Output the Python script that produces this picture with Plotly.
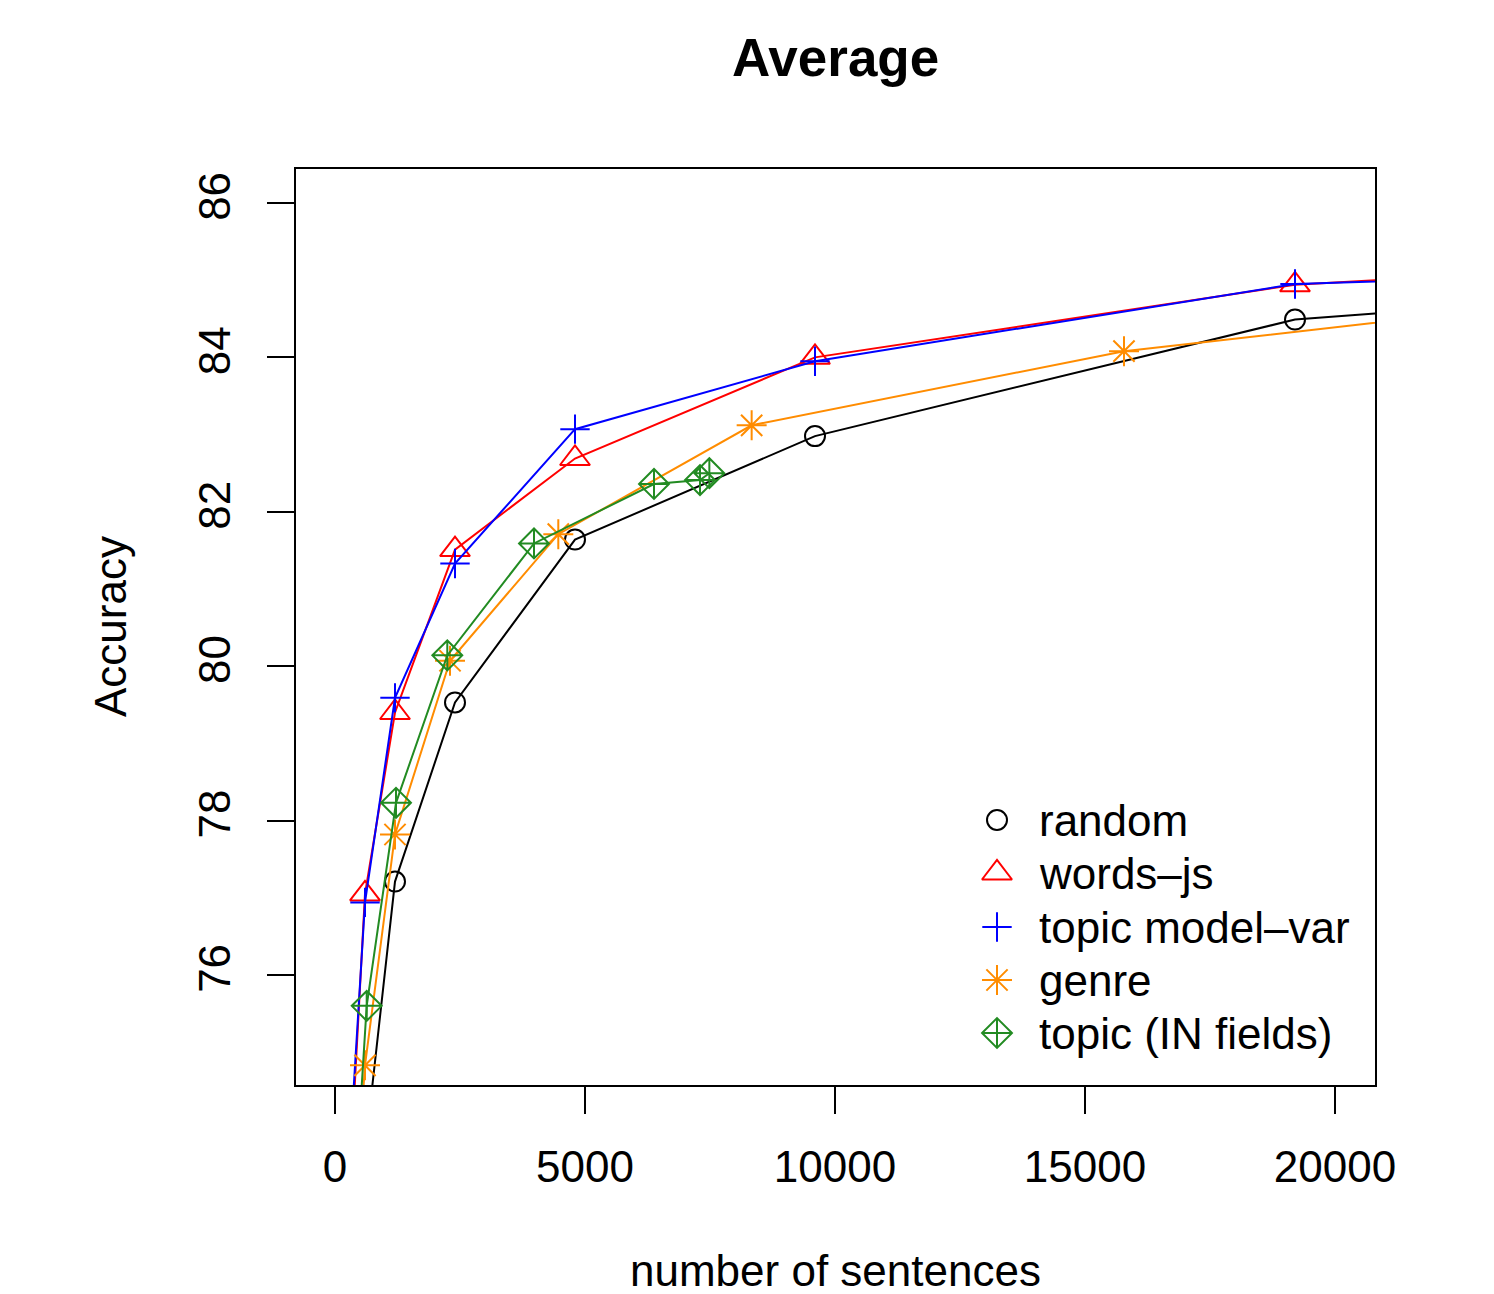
import plotly.graph_objects as go

# ---------------- data ----------------
x_random = [600, 1200, 2400, 4800, 9600, 19200, 38400]
y_random = [73.71, 77.21, 79.53, 81.64, 82.98, 84.49, 85.43]

x_words = [300, 600, 1200, 2400, 4800, 9600, 19200, 38400]
y_words = [73.43, 77.05, 79.40, 81.51, 82.69, 84.00, 84.94, 85.66]

x_tmvar = [300, 600, 1200, 2400, 4800, 9600, 19200, 38400]
y_tmvar = [73.76, 76.94, 79.59, 81.33, 83.07, 83.95, 84.95, 85.35]

x_genre = [300, 600, 1200, 2300, 4466, 8333, 15780, 30000]
y_genre = [72.0, 74.83, 77.82, 80.07, 81.71, 83.12, 84.08, 85.12]

x_topic = [300, 634, 1220, 2246, 3980, 6380, 7300, 7487]
y_topic = [72.14, 75.60, 78.23, 80.14, 81.59, 82.36, 82.41, 82.50]

series_names = ["random", "words\u2013js", "topic model\u2013var", "genre", "topic (IN fields)"]
x_ticks = [0, 5000, 10000, 15000, 20000]
y_ticks = [76, 78, 80, 82, 84, 86]

# ---------------- style ----------------
FONT = "Liberation Sans, Arial, Helvetica, sans-serif"
colors = ["#000000", "#FF0000", "#0000FF", "#FF8C00", "#228B22"]
symbols = ["circle-open", "triangle-up-open", "cross-thin-open", "asterisk-open", "diamond-cross-open"]
sizes = [20, 26, 21, 25, 23]

xs = [x_random, x_words, x_tmvar, x_genre, x_topic]
ys = [y_random, y_words, y_tmvar, y_genre, y_topic]

W, H = 1494, 1294
L, R, T, B = 296, 119, 169, 209
PW, PH = W - L - R, H - T - B

fig = go.Figure()
for xv, yv, c, s, sz, nm in zip(xs, ys, colors, symbols, sizes, series_names):
    fig.add_trace(go.Scatter(
        x=xv, y=yv, mode="lines+markers", name=nm, showlegend=False,
        line=dict(color=c, width=2),
        marker=dict(symbol=s, size=sz, color=c, line=dict(color=c, width=2)),
        cliponaxis=True,
    ))

# manual legend on an overlay axis (0..1 fraction of plot area)
leg_x = (997 - L) / PW
leg_rows_px = [820, 873, 927, 980, 1033]
leg_y = [(H - B - p) / PH for p in leg_rows_px]
for i in range(5):
    fig.add_trace(go.Scatter(
        x=[leg_x], y=[leg_y[i]], xaxis="x2", yaxis="y2", mode="markers",
        showlegend=False, hoverinfo="skip",
        marker=dict(symbol=symbols[i], size=sizes[i], color=colors[i],
                    line=dict(color=colors[i], width=2)),
    ))
    fig.add_annotation(
        x=(1037 - L) / PW, y=leg_y[i], xref="x2", yref="y2",
        text=series_names[i], showarrow=False, xanchor="left", yanchor="middle",
        font=dict(family=FONT, size=44, color="black"),
    )

fig.update_layout(
    width=W, height=H,
    margin=dict(l=L, r=R, t=T, b=B),
    paper_bgcolor="white", plot_bgcolor="white",
    font=dict(family=FONT, size=44, color="black"),
    showlegend=False,
    xaxis=dict(
        range=[-780, 20800], tickvals=x_ticks, ticktext=[str(v) for v in x_ticks],
        ticks="outside", ticklen=27, tickwidth=2, tickcolor="black",
        showline=True, linewidth=2, linecolor="black", mirror=True,
        showgrid=False, zeroline=False, ticklabelstandoff=15,
        tickfont=dict(family=FONT, size=44, color="black"),
    ),
    yaxis=dict(
        range=[74.575, 86.44], tickvals=y_ticks, ticktext=[str(v) for v in y_ticks],
        ticks="outside", ticklen=27, tickwidth=2, tickcolor="black",
        showline=True, linewidth=2, linecolor="black", mirror=True,
        showgrid=False, zeroline=False, tickangle=-90, ticklabelstandoff=19,
        tickfont=dict(family=FONT, size=44, color="black"),
    ),
    xaxis2=dict(range=[0, 1], overlaying="x", visible=False, fixedrange=True),
    yaxis2=dict(range=[0, 1], overlaying="y", visible=False, fixedrange=True),
)

# title and axis titles
fig.add_annotation(
    text="<b>Average</b>", xref="paper", yref="paper",
    x=0.5, y=(H - B - 58) / PH, xanchor="center", yanchor="middle",
    showarrow=False, font=dict(family=FONT, size=53, color="black"),
)
fig.add_annotation(
    text="number of sentences", xref="paper", yref="paper",
    x=0.5, y=(H - B - 1270) / PH, xanchor="center", yanchor="middle",
    showarrow=False, font=dict(family=FONT, size=44, color="black"),
)
fig.add_annotation(
    text="Accuracy", xref="paper", yref="paper",
    x=(110 - L) / PW, y=0.5, xanchor="center", yanchor="middle", textangle=-90,
    showarrow=False, font=dict(family=FONT, size=44, color="black"),
)

fig.write_html(
    "out.html",
    config={"displayModeBar": False},
    post_script="document.body.style.margin='0';document.body.style.overflow='hidden';",
)
